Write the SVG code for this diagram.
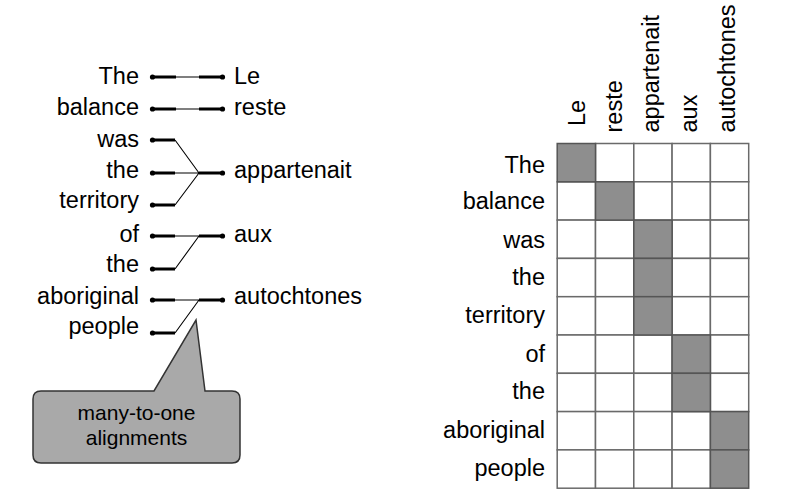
<svg xmlns="http://www.w3.org/2000/svg" width="788" height="501" viewBox="0 0 788 501">
<style>
text{font-family:"Liberation Sans",Arial,sans-serif;font-size:23.5px;fill:#000}
.r{text-anchor:end}
.thick{stroke:#000;stroke-width:3;fill:none}
.thin{stroke:#000;stroke-width:1.1;fill:none}
.dot{fill:#000}
.cell{fill:#fff;stroke:#6a6a6a;stroke-width:1.5}
.on{fill:#8e8e8e;stroke:#555;stroke-width:1.5}
.call{fill:#a9a9a9;stroke:#333;stroke-width:1.5}
.ct{font-size:21px;text-anchor:middle}
</style>
<rect width="788" height="501" fill="#fff"/>
<g id="src-words">
<text class="r" x="139" y="83.5">The</text>
<text class="r" x="139" y="115">balance</text>
<text class="r" x="139" y="146.5">was</text>
<text class="r" x="139" y="177.5">the</text>
<text class="r" x="139" y="207.5">territory</text>
<text class="r" x="139" y="241.5">of</text>
<text class="r" x="139" y="272">the</text>
<text class="r" x="139" y="303.5">aboriginal</text>
<text class="r" x="139" y="334">people</text>
</g>
<g id="tgt-words">
<text x="234" y="83.5">Le</text>
<text x="234" y="115">reste</text>
<text x="234" y="177.5">appartenait</text>
<text x="234" y="241.5">aux</text>
<text x="234" y="303.5">autochtones</text>
</g>
<g id="connectors">
<g class="thick">
<path d="M152.5 77H176M199 77H222.5"/>
<path d="M152.5 109H176M199 109H222.5"/>
<path d="M152.5 140H175M152.5 173H175M152.5 205H175M199 173H222.5"/>
<path d="M152.5 236H175M152.5 269H175M199 236H222.5"/>
<path d="M152.5 300H175M152.5 333H175M199 300H222.5"/>
</g>
<g class="thin">
<path d="M176 77H199M176 109H199"/>
<path d="M175 140L199 173M175 173H199M175 205L199 173"/>
<path d="M175 236H199M175 269L199 236"/>
<path d="M175 300H199M175 333L199 300"/>
</g>
<g class="dot">
<circle cx="152.5" cy="77" r="2.6"/><circle cx="222.5" cy="77" r="2.6"/>
<circle cx="152.5" cy="109" r="2.6"/><circle cx="222.5" cy="109" r="2.6"/>
<circle cx="152.5" cy="140" r="2.6"/><circle cx="152.5" cy="173" r="2.6"/><circle cx="152.5" cy="205" r="2.6"/><circle cx="222.5" cy="173" r="2.6"/>
<circle cx="152.5" cy="236" r="2.6"/><circle cx="152.5" cy="269" r="2.6"/><circle cx="222.5" cy="236" r="2.6"/>
<circle cx="152.5" cy="300" r="2.6"/><circle cx="152.5" cy="333" r="2.6"/><circle cx="222.5" cy="300" r="2.6"/>
</g>
</g>
<g id="callout">
<path class="call" d="M41 391H154L196 320L205 391H232Q240 391 240 399V455Q240 463 232 463H41Q33 463 33 455V399Q33 391 41 391Z"/>
<text class="ct" x="136.5" y="420">many-to-one</text>
<text class="ct" x="136.5" y="445">alignments</text>
</g>
<g id="col-headers">
<text transform="translate(585 126) rotate(-90)">Le</text>
<text transform="translate(621.7 132.5) rotate(-90)">reste</text>
<text transform="translate(659 132.5) rotate(-90)">appartenait</text>
<text transform="translate(696.7 132.5) rotate(-90)">aux</text>
<text transform="translate(735 132.5) rotate(-90)">autochtones</text>
</g>
<g id="row-labels">
<text class="r" x="545" y="172.5">The</text>
<text class="r" x="545" y="208.5">balance</text>
<text class="r" x="545" y="248">was</text>
<text class="r" x="545" y="285">the</text>
<text class="r" x="545" y="322.5">territory</text>
<text class="r" x="545" y="361.5">of</text>
<text class="r" x="545" y="399">the</text>
<text class="r" x="545" y="438.3">aboriginal</text>
<text class="r" x="545" y="475.5">people</text>
</g>
<g id="matrix">
<g class="cell">
<rect x="595.5" y="143.5" width="38.3" height="38.3"/><rect x="633.8" y="143.5" width="38.3" height="38.3"/><rect x="672.1" y="143.5" width="38.3" height="38.3"/><rect x="710.4" y="143.5" width="38.3" height="38.3"/>
<rect x="557.2" y="181.8" width="38.3" height="38.3"/><rect x="633.8" y="181.8" width="38.3" height="38.3"/><rect x="672.1" y="181.8" width="38.3" height="38.3"/><rect x="710.4" y="181.8" width="38.3" height="38.3"/>
<rect x="557.2" y="220.1" width="38.3" height="38.3"/><rect x="595.5" y="220.1" width="38.3" height="38.3"/><rect x="672.1" y="220.1" width="38.3" height="38.3"/><rect x="710.4" y="220.1" width="38.3" height="38.3"/>
<rect x="557.2" y="258.4" width="38.3" height="38.3"/><rect x="595.5" y="258.4" width="38.3" height="38.3"/><rect x="672.1" y="258.4" width="38.3" height="38.3"/><rect x="710.4" y="258.4" width="38.3" height="38.3"/>
<rect x="557.2" y="296.7" width="38.3" height="38.3"/><rect x="595.5" y="296.7" width="38.3" height="38.3"/><rect x="672.1" y="296.7" width="38.3" height="38.3"/><rect x="710.4" y="296.7" width="38.3" height="38.3"/>
<rect x="557.2" y="335" width="38.3" height="38.3"/><rect x="595.5" y="335" width="38.3" height="38.3"/><rect x="633.8" y="335" width="38.3" height="38.3"/><rect x="710.4" y="335" width="38.3" height="38.3"/>
<rect x="557.2" y="373.3" width="38.3" height="38.3"/><rect x="595.5" y="373.3" width="38.3" height="38.3"/><rect x="633.8" y="373.3" width="38.3" height="38.3"/><rect x="710.4" y="373.3" width="38.3" height="38.3"/>
<rect x="557.2" y="411.6" width="38.3" height="38.3"/><rect x="595.5" y="411.6" width="38.3" height="38.3"/><rect x="633.8" y="411.6" width="38.3" height="38.3"/><rect x="672.1" y="411.6" width="38.3" height="38.3"/>
<rect x="557.2" y="449.9" width="38.3" height="38.3"/><rect x="595.5" y="449.9" width="38.3" height="38.3"/><rect x="633.8" y="449.9" width="38.3" height="38.3"/><rect x="672.1" y="449.9" width="38.3" height="38.3"/>
</g>
<g class="on">
<rect x="557.2" y="143.5" width="38.3" height="38.3"/>
<rect x="595.5" y="181.8" width="38.3" height="38.3"/>
<rect x="633.8" y="220.1" width="38.3" height="38.3"/>
<rect x="633.8" y="258.4" width="38.3" height="38.3"/>
<rect x="633.8" y="296.7" width="38.3" height="38.3"/>
<rect x="672.1" y="335" width="38.3" height="38.3"/>
<rect x="672.1" y="373.3" width="38.3" height="38.3"/>
<rect x="710.4" y="411.6" width="38.3" height="38.3"/>
<rect x="710.4" y="449.9" width="38.3" height="38.3"/>
</g>
</g>
</svg>
